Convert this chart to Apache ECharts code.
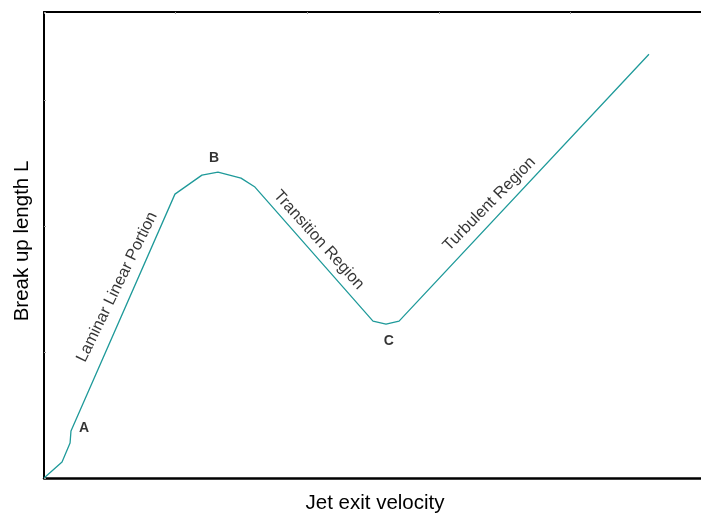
<!DOCTYPE html>
<html><head><meta charset="utf-8">
<script src="https://cdn.jsdelivr.net/npm/echarts@6/dist/echarts.min.js"></script>
<style>html,body{margin:0;padding:0;background:#fff}#c{width:701px;height:513px}</style>
</head><body><div id="c"></div>
<script>
// curve points (velocity, breakup length)
const curveX = [0, 0.137, 0.198, 0.205, 0.995, 1.200, 1.322, 1.497, 1.603, 2.500, 2.599, 2.698, 4.597];
const curveY = [0, 0.127, 0.278, 0.373, 2.254, 2.405, 2.429, 2.381, 2.310, 1.246, 1.222, 1.246, 3.365];
// point labels
const pointNames = ['A', 'B', 'C'];
const pointX = [0.304, 1.292, 2.62];
const pointY = [0.397, 2.54, 1.087];
// region labels
const regionNames = ['Laminar Linear Portion', 'Transition Region', 'Turbulent Region'];
const regionX = [0.555, 2.088, 3.384];
const regionY = [1.516, 1.89, 2.175];
const regionRot = [64, -48, 45.5];

const chart = echarts.init(document.getElementById('c'), null, {renderer: 'canvas'});
const font = 'Liberation Sans, Arial, sans-serif';
const ptData = pointNames.map((n, i) => ({value: [pointX[i], pointY[i]], name: n}));
const rgData = regionNames.map((n, i) => ({value: [regionX[i], regionY[i]], name: n,
  label: {rotate: regionRot[i]}}));
chart.setOption({
  animation: false,
  grid: {left: 44, right: -1, top: 12, bottom: 35, containLabel: false, outerBoundsMode: 'none'},
  xAxis: [{
    type: 'value', min: 0, max: 5, interval: 1,
    name: 'Jet exit velocity', nameLocation: 'middle', nameGap: 15,
    nameTextStyle: {fontFamily: font, fontSize: 20.5, color: '#000', padding: [0, 0, 0, 4]},
    axisLine: {show: true, lineStyle: {color: '#000', width: 2.5}},
    axisTick: {show: false}, axisLabel: {show: false}, splitLine: {show: false}
  }, {
    type: 'value', position: 'top', min: 0, max: 5, interval: 1,
    axisLine: {show: true, lineStyle: {color: '#000', width: 2}},
    axisTick: {show: true, inside: true, length: 2, lineStyle: {color: '#999'}},
    axisLabel: {show: false}, splitLine: {show: false}
  }],
  yAxis: {
    type: 'value', min: 0, max: 3.7, interval: 1,
    name: 'Break up length L', nameLocation: 'middle', nameGap: 11,
    nameTextStyle: {fontFamily: font, fontSize: 20.5, color: '#000', padding: [0, 0, 0, 8]},
    axisLine: {show: true, lineStyle: {color: '#000', width: 2}},
    axisTick: {show: true, inside: true, length: 2, lineStyle: {color: '#999'}},
    axisLabel: {show: false}, splitLine: {show: false}
  },
  series: [{
    type: 'line', data: curveX.map((x, i) => [x, curveY[i]]),
    symbol: 'none', lineStyle: {color: '#1f9a9a', width: 1.3}, z: 3
  }, {
    type: 'scatter', data: ptData, symbolSize: 0,
    label: {show: true, position: 'inside', formatter: '{b}', fontFamily: font,
      fontWeight: 'bold', fontSize: 14, color: '#000', textBorderWidth: 0}
  }, {
    type: 'scatter', data: rgData, symbolSize: 0,
    label: {show: true, position: 'inside', formatter: '{b}', fontFamily: font,
      fontSize: 16.3, color: '#000', textBorderWidth: 0}
  }]
});
</script></body></html>
